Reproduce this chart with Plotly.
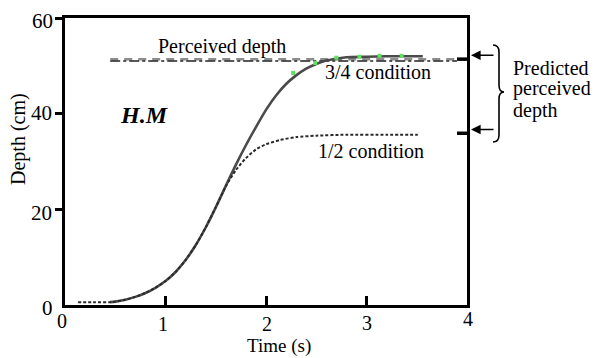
import plotly.graph_objects as go

# ---------------- data ----------------
main_t = [0.45, 0.5, 0.6, 0.7, 0.8, 0.9, 1.0, 1.1, 1.2, 1.3, 1.4, 1.5, 1.6, 1.7, 1.8, 1.9,
          2.0, 2.1, 2.2, 2.3, 2.4, 2.5, 2.6, 2.7, 2.8, 3.0, 3.2, 3.4, 3.56]
main_d = [0.6, 0.7, 1.1, 1.7, 2.5, 3.6, 5.0, 6.9, 9.4, 12.5, 16.2, 20.4, 24.9, 29.3, 33.4, 37.2,
          40.8, 43.8, 46.2, 48.0, 49.4, 50.4, 51.1, 51.5, 51.8, 51.9, 52.0, 52.0, 52.0]

half_t = [0.13, 0.3, 0.45, 0.5, 0.6, 0.7, 0.8, 0.9, 1.0, 1.1, 1.2, 1.3, 1.4, 1.5, 1.6,
          1.7, 1.8, 1.9, 2.0, 2.14, 2.3, 2.5, 2.8, 3.2, 3.51]
half_d = [0.6, 0.6, 0.6, 0.7, 1.1, 1.7, 2.5, 3.6, 5.0, 6.9, 9.4, 12.5, 16.2, 20.4, 24.8,
          28.2, 30.7, 32.5, 33.6, 34.5, 35.1, 35.4, 35.6, 35.6, 35.6]

three_q_t = [0.45, 4.0]
three_q_d = [51.4, 51.4]

perceived_t = [0.45, 3.9]
perceived_d = [51.0, 51.0]

green_t = [2.27, 2.49, 2.70, 2.93, 3.13, 3.35]
green_d = [48.5, 50.6, 51.7, 51.9, 52.1, 52.1]

predicted_d = [51.4, 35.9]

x_tick_vals = [0, 1, 2, 3, 4]
x_tick_labels = ["0", "1", "2", "3", "4"]
y_tick_vals = [0, 20, 40, 60]
y_tick_labels = ["0", "20", "40", "60"]

# ---------------- layout helpers ----------------
L, R, T, B = 65, 128, 18, 53
W, H = 595, 358
PW, PH = W - L - R, H - T - B


def px(x):
    return (x - L) / PW


def py(y):
    return (H - B - y) / PH


FONT = "Liberation Serif"

fig = go.Figure()

fig.add_trace(go.Scatter(x=three_q_t, y=three_q_d, mode="lines",
                         line=dict(color="#8c8c8c", width=2.5, dash="8px,6px")))
fig.add_trace(go.Scatter(x=perceived_t, y=perceived_d, mode="lines",
                         line=dict(color="#222222", width=1.6, dash="10px,3px,3px,3px")))
fig.add_trace(go.Scatter(x=main_t, y=main_d, mode="lines",
                         line=dict(color="#4a4a4a", width=2.6, shape="spline", smoothing=0.6)))
fig.add_trace(go.Scatter(x=half_t, y=half_d, mode="lines",
                         line=dict(color="#2a2a2a", width=2, dash="3px,2px",
                                   shape="spline", smoothing=0.6)))
fig.add_trace(go.Scatter(x=green_t, y=green_d, mode="markers",
                         marker=dict(color="#5fe35f", size=4, symbol="square")))

# predicted marks on right axis
for d in predicted_d:
    fig.add_shape(type="line", xref="paper", yref="y", x0=px(457), x1=px(468), y0=d, y1=d,
                  line=dict(color="black", width=3.5))
    fig.add_annotation(x=px(471), xref="paper", y=d + 0.8, yref="y", ax=24, ay=0,
                       axref="pixel", ayref="pixel", text="", showarrow=True,
                       arrowhead=2, arrowsize=1.2, arrowwidth=1.6, arrowcolor="black")

# brace
bx0, bx1, bxm = 493, 499, 504
ytop, ymid, ybot = 45, 92, 142
path = (f"M {px(bx0)} {py(ytop)} Q {px(bx1)} {py(ytop)} {px(bx1)} {py(ytop+7)} "
        f"L {px(bx1)} {py(ymid-7)} Q {px(bx1)} {py(ymid)} {px(bxm)} {py(ymid)} "
        f"Q {px(bx1)} {py(ymid)} {px(bx1)} {py(ymid+7)} "
        f"L {px(bx1)} {py(ybot-7)} Q {px(bx1)} {py(ybot)} {px(bx0)} {py(ybot)}")
fig.add_shape(type="path", xref="paper", yref="paper", path=path,
              line=dict(color="black", width=1.6))

# tick labels
x_label_y = [321, 324, 324, 323, 319]
x_label_shift = [-3, -3, 1, 0, 1]
for v, lab, yy, sh in zip(x_tick_vals, x_tick_labels, x_label_y, x_label_shift):
    fig.add_annotation(x=v, xref="x", y=py(yy), yref="paper", text=lab, showarrow=False,
                       xshift=sh, xanchor="center", yanchor="middle",
                       font=dict(family=FONT, size=20, color="black"))
y_label_shift = [-3, -4, 1, -3]
y_label_x = [55, 54, 54, 55]
for v, lab, sh, xx in zip(y_tick_vals, y_tick_labels, y_label_shift, y_label_x):
    fig.add_annotation(x=px(xx), xref="paper", y=v, yref="y", text=lab, showarrow=False,
                       yshift=sh, xanchor="right", yanchor="middle",
                       font=dict(family=FONT, size=21, color="black"))

texts = [
    ("Perceived depth", 222, 47, "center", 20),
    ("3/4 condition", 378, 72, "center", 20),
    ("1/2 condition", 371, 151, "center", 20),
    ("Predicted", 511, 68, "left", 20),
    ("perceived", 511, 89, "left", 20),
    ("depth", 511, 110, "left", 20),
    ("<b><i>H.M</i></b>", 144, 115, "center", 24),
    ("Time (s)", 279, 346, "center", 19),
]
for txt, x, y, anc, sz in texts:
    fig.add_annotation(x=px(x), xref="paper", y=py(y), yref="paper", text=txt,
                       showarrow=False, xanchor=anc, yanchor="middle",
                       font=dict(family=FONT, size=sz, color="black"))
fig.add_annotation(x=px(18), xref="paper", y=py(139), yref="paper", text="Depth (cm)",
                   showarrow=False, textangle=-90, xanchor="center", yanchor="middle",
                   font=dict(family=FONT, size=20, color="black"))

fig.update_layout(
    width=W, height=H, margin=dict(l=L, r=R, t=T, b=B),
    paper_bgcolor="white", plot_bgcolor="white", showlegend=False,
    xaxis=dict(range=[0, 4], showline=True, linecolor="black", linewidth=2.5, mirror=True,
               ticks="inside", tickvals=[1, 2, 3], ticklen=9, tickwidth=2.5, tickcolor="black",
               showticklabels=False, showgrid=False, zeroline=False, fixedrange=True),
    yaxis=dict(range=[0, 60], showline=True, linecolor="black", linewidth=2.5, mirror=True,
               ticks="outside", tickvals=[20, 40, 60], ticklen=7, tickwidth=2.5, tickcolor="black",
               showticklabels=False, showgrid=False, zeroline=False, fixedrange=True),
)

fig.write_html("out.html")
